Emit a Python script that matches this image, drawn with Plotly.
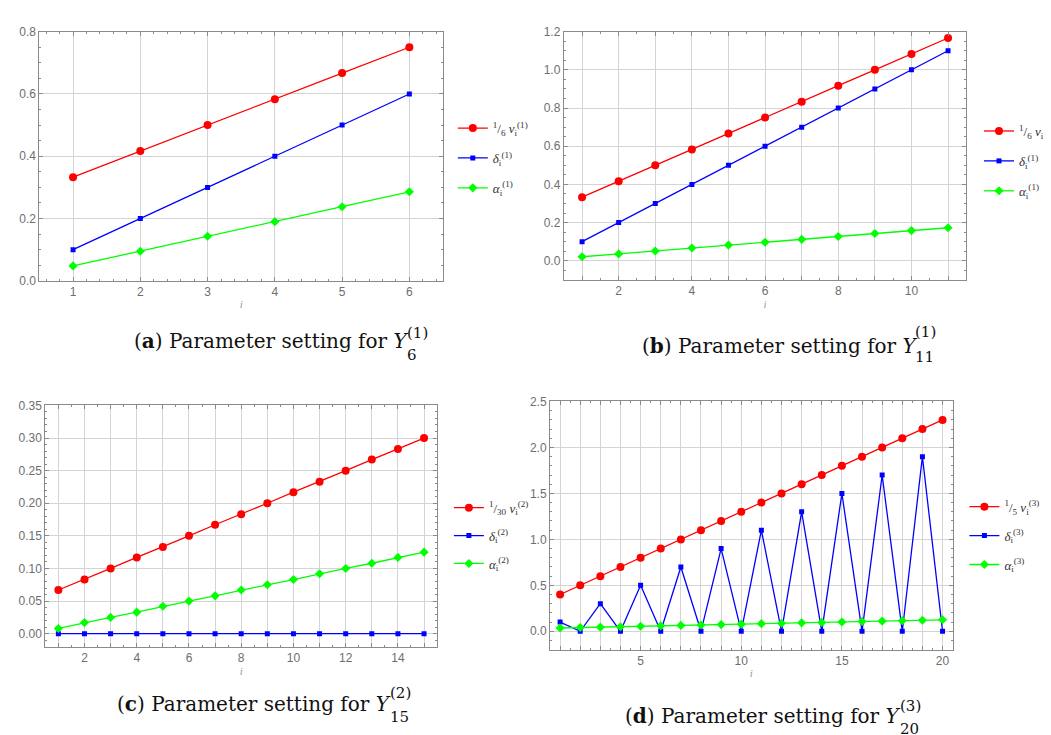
import plotly.graph_objects as go

W, H = 1051, 735

# ---------------- data ----------------
i_a = [1, 2, 3, 4, 5, 6]
nu_a = [0.333, 0.417, 0.5, 0.583, 0.667, 0.75]
delta_a = [0.1, 0.2, 0.3, 0.4, 0.5, 0.6]
alpha_a = [0.048, 0.095, 0.143, 0.19, 0.238, 0.286]

i_b = [1, 2, 3, 4, 5, 6, 7, 8, 9, 10, 11]
nu_b = [0.333, 0.417, 0.5, 0.583, 0.667, 0.75, 0.833, 0.917, 1.0, 1.083, 1.167]
delta_b = [0.1, 0.2, 0.3, 0.4, 0.5, 0.6, 0.7, 0.8, 0.9, 1.0, 1.1]
alpha_b = [0.021, 0.036, 0.051, 0.067, 0.082, 0.097, 0.112, 0.127, 0.143, 0.158, 0.173]

i_c = [1, 2, 3, 4, 5, 6, 7, 8, 9, 10, 11, 12, 13, 14, 15]
nu_c = [0.067, 0.083, 0.1, 0.117, 0.133, 0.15, 0.167, 0.183, 0.2, 0.217, 0.233, 0.25, 0.267, 0.283, 0.3]
delta_c = [0, 0, 0, 0, 0, 0, 0, 0, 0, 0, 0, 0, 0, 0, 0]
alpha_c = [0.008, 0.017, 0.025, 0.033, 0.042, 0.05, 0.058, 0.067, 0.075, 0.083, 0.092, 0.1, 0.108, 0.117, 0.125]

i_d = [1, 2, 3, 4, 5, 6, 7, 8, 9, 10, 11, 12, 13, 14, 15, 16, 17, 18, 19, 20]
nu_d = [0.4, 0.5, 0.6, 0.7, 0.8, 0.9, 1.0, 1.1, 1.2, 1.3, 1.4, 1.5, 1.6, 1.7, 1.8, 1.9, 2.0, 2.1, 2.2, 2.3]
delta_d = [0.1, 0, 0.3, 0, 0.5, 0, 0.7, 0, 0.9, 0, 1.1, 0, 1.3, 0, 1.5, 0, 1.7, 0, 1.9, 0]
alpha_d = [0.036, 0.041, 0.045, 0.05, 0.055, 0.059, 0.064, 0.069, 0.073, 0.078,
           0.083, 0.087, 0.092, 0.097, 0.101, 0.106, 0.111, 0.116, 0.12, 0.125]

labels_a = ["<sup>1</sup>/<sub>6</sub> <i>ν</i><sub>i</sub><sup>(1)</sup>",
            "<i>δ</i><sub>i</sub><sup>(1)</sup>", "<i>α</i><sub>i</sub><sup>(1)</sup>"]
labels_b = labels_a
labels_c = ["<sup>1</sup>/<sub>30</sub> <i>ν</i><sub>i</sub><sup>(2)</sup>",
            "<i>δ</i><sub>i</sub><sup>(2)</sup>", "<i>α</i><sub>i</sub><sup>(2)</sup>"]
labels_d = ["<sup>1</sup>/<sub>5</sub> <i>ν</i><sub>i</sub><sup>(3)</sup>",
            "<i>δ</i><sub>i</sub><sup>(3)</sup>", "<i>α</i><sub>i</sub><sup>(3)</sup>"]

xlabels_a = ["1", "2", "3", "4", "5", "6"]
xlabels_b = ["", "2", "", "4", "", "6", "", "8", "", "10", ""]
xlabels_c = ["", "2", "", "4", "", "6", "", "8", "", "10", "", "12", "", "14", ""]
xlabels_d = ["", "", "", "", "5", "", "", "", "", "10", "", "", "", "", "15", "", "", "", "", "20"]

# ---------------- layout helpers ----------------
def px_x(a, b):
    return [a / W, b / W]

def px_y(top, bottom):
    return [1 - bottom / H, 1 - top / H]

RED, BLUE, GREEN = "#ff0000", "#0000ff", "#00ff00"
FRAME = "#8a8a8a"
GRID = "#d4d4d4"

fig = go.Figure()

panels = [
    dict(x=i_a, ys=(nu_a, delta_a, alpha_a), labels=labels_a, xl=xlabels_a, n="", legend="legend",
         dom=(px_x(32, 443), px_y(17, 271)), xr=[0.5, 6.5], yr=[0, 0.8], dt=0.2, fmt=".1f",
         ymin=0.05, xmin=0.2),
    dict(x=i_b, ys=(nu_b, delta_b, alpha_b), labels=labels_b, xl=xlabels_b, n="2", legend="legend2",
         dom=(px_x(566, 976), px_y(17, 270)), xr=[0.5, 11.5], yr=[-0.1, 1.2], dt=0.2, fmt=".1f",
         ymin=0.05, xmin=0.5),
    dict(x=i_c, ys=(nu_c, delta_c, alpha_c), labels=labels_c, xl=xlabels_c, n="3", legend="legend3",
         dom=(px_x(38, 437), px_y(398, 644)), xr=[0.5, 15.5], yr=[-0.02, 0.35], dt=0.05, fmt=".2f",
         ymin=0.01, xmin=0.5),
    dict(x=i_d, ys=(nu_d, delta_d, alpha_d), labels=labels_d, xl=xlabels_d, n="4", legend="legend4",
         dom=(px_x(552, 962), px_y(394, 647)), xr=[0.5, 20.5], yr=[-0.2, 2.5], dt=0.5, fmt=".1f",
         ymin=0.1, xmin=0.5),
]

styles = [
    (RED, "circle", 8),
    (BLUE, "square", 5),
    (GREEN, "diamond", 7),
]

for p in panels:
    xa = "x" + p["n"]
    ya = "y" + p["n"]
    for k, (yv, lab, (col, sym, sz)) in enumerate(zip(p["ys"], p["labels"], styles)):
        fig.add_trace(go.Scatter(
            x=p["x"], y=yv, mode="lines+markers", name=lab,
            line=dict(color=col, width=1.3),
            marker=dict(color=col, symbol=sym, size=sz, line=dict(width=0)),
            xaxis=xa, yaxis=ya, legend=p["legend"], legendgroup=p["legend"] + str(k),
            showlegend=True,
        ))

    axcommon = dict(showline=True, linecolor=FRAME, linewidth=1, mirror="allticks",
                    ticks="inside", ticklen=4, tickcolor=FRAME, showgrid=True,
                    gridcolor=GRID, gridwidth=1, zeroline=False,
                    tickfont=dict(family="Liberation Sans", size=12, color="#6e6e6e"))
    xkey = "xaxis" + p["n"]
    ykey = "yaxis" + p["n"]
    fig.update_layout(**{
        xkey: dict(domain=p["dom"][0], range=p["xr"], anchor=ya,
                   tickmode="array", tickvals=p["x"], ticktext=p["xl"],
                   minor=dict(ticks="inside", ticklen=2, tickcolor=FRAME, dtick=p["xmin"],
                              tick0=0, showgrid=False),
                   title=dict(text="<i>i</i>", standoff=2,
                              font=dict(family="Liberation Serif", size=11, color="#999999")),
                   **axcommon),
        ykey: dict(domain=p["dom"][1], range=p["yr"], anchor=xa,
                   tick0=0, dtick=p["dt"], tickformat=p["fmt"],
                   minor=dict(ticks="inside", ticklen=2, tickcolor=FRAME, dtick=p["ymin"],
                              tick0=0, showgrid=False),
                   **axcommon),
    })

legfont = dict(family="Liberation Serif", size=13, color="#333333")
def leg(x, y, gap):
    return dict(x=x / W, y=1 - y / H, xanchor="left", yanchor="top", font=legfont,
                bgcolor="rgba(0,0,0,0)", borderwidth=0, tracegroupgap=gap,
                traceorder="grouped", itemwidth=30)

fig.update_layout(
    legend=leg(453, 100, 10),
    legend2=leg(989, 103, 10),
    legend3=leg(449, 487, 8),
    legend4=leg(974, 486, 9),
)

# ---------------- captions ----------------
capfont = dict(family="DejaVu Serif", size=20, color="#111111")
subfont = dict(family="DejaVu Serif", size=15, color="#111111")
captions = [
    ("a", 126, 332, 404, "(1)", 324, "6", 347),
    ("b", 644, 337, 922, "(1)", 323, "11", 349),
    ("c", 109, 702, 387, "(2)", 691, "15", 716),
    ("d", 626, 715, 906, "(3)", 704, "20", 728),
]
for letter, xstart, yc, xend, sup, ysup, sub, ysub in captions:
    fig.add_annotation(text="(<b>%s</b>) Parameter setting for <i>Y</i>" % letter,
                       x=xstart / W, y=1 - yc / H, xref="paper", yref="paper",
                       xanchor="left", yanchor="middle", showarrow=False, font=capfont)
    fig.add_annotation(text=sup, x=xend / W, y=1 - ysup / H, xref="paper", yref="paper",
                       xanchor="left", yanchor="middle", showarrow=False, font=subfont)
    fig.add_annotation(text=sub, x=xend / W, y=1 - ysub / H, xref="paper", yref="paper",
                       xanchor="left", yanchor="middle", showarrow=False, font=subfont)

fig.update_layout(width=W, height=H, margin=dict(l=0, r=0, t=0, b=0),
                  paper_bgcolor="white", plot_bgcolor="white")

fig.write_html("out.html")
